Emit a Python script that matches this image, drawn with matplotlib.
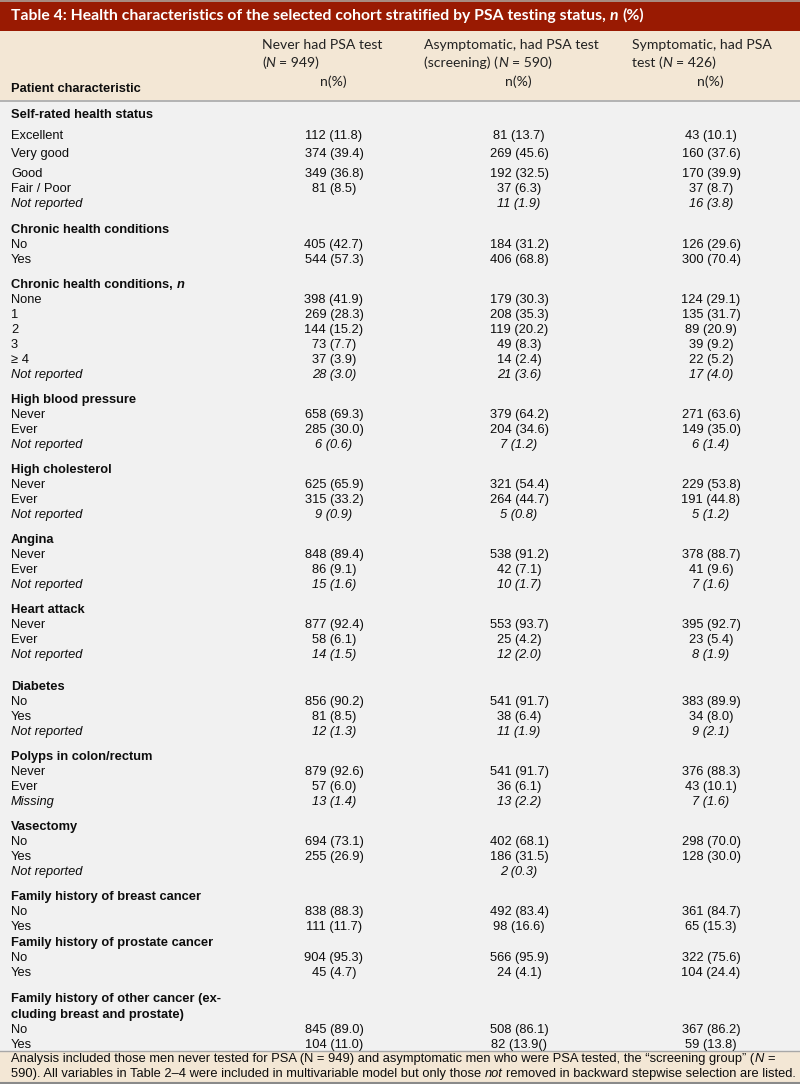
import matplotlib
matplotlib.use("Agg")
import matplotlib.pyplot as plt
from matplotlib.patches import Rectangle

# ---------------- data ----------------
title_parts = [("Table 4: Health characteristics of the selected cohort stratified by PSA testing status, ", "bold"),
               ("n", "bolditalic"), (" (%)", "bold")]

col_header_lines = [
    [[("Never had PSA test", "n")], [("(", "n"), ("N", "i"), (" = 949)", "n")]],
    [[("Asymptomatic, had PSA test", "n")], [("(screening) (", "n"), ("N", "i"), (" = 590)", "n")]],
    [[("Symptomatic, had PSA", "n")], [("test (", "n"), ("N", "i"), (" = 426)", "n")]],
]
col_unit = "n(%)"
row_header = "Patient characteristic"

section_titles = [
    [("Self-rated health status", "b")],
    [("Chronic health conditions", "b")],
    [("Chronic health conditions, ", "b"), ("n", "bi")],
    [("High blood pressure", "b")],
    [("High cholesterol", "b")],
    [("Angina", "b")],
    [("Heart attack", "b")],
    [("Diabetes", "b")],
    [("Polyps in colon/rectum", "b")],
    [("Vasectomy", "b")],
    [("Family history of breast cancer", "b")],
    [("Family history of prostate cancer", "b")],
    [("Family history of other cancer (ex-", "b")],
]
section_title_extra = {12: "cluding breast and prostate)"}

row_labels = [
    ["Excellent", "Very good", "Good", "Fair / Poor", "Not reported"],
    ["No", "Yes"],
    ["None", "1", "2", "3", "\u2265 4", "Not reported"],
    ["Never", "Ever", "Not reported"],
    ["Never", "Ever", "Not reported"],
    ["Never", "Ever", "Not reported"],
    ["Never", "Ever", "Not reported"],
    ["No", "Yes", "Not reported"],
    ["Never", "Ever", "Missing"],
    ["No", "Yes", "Not reported"],
    ["No", "Yes"],
    ["No", "Yes"],
    ["No", "Yes"],
]

never_tested = [
    ["112 (11.8)", "374 (39.4)", "349 (36.8)", "81 (8.5)", ""],
    ["405 (42.7)", "544 (57.3)"],
    ["398 (41.9)", "269 (28.3)", "144 (15.2)", "73 (7.7)", "37 (3.9)", "28 (3.0)"],
    ["658 (69.3)", "285 (30.0)", "6 (0.6)"],
    ["625 (65.9)", "315 (33.2)", "9 (0.9)"],
    ["848 (89.4)", "86 (9.1)", "15 (1.6)"],
    ["877 (92.4)", "58 (6.1)", "14 (1.5)"],
    ["856 (90.2)", "81 (8.5)", "12 (1.3)"],
    ["879 (92.6)", "57 (6.0)", "13 (1.4)"],
    ["694 (73.1)", "255 (26.9)", ""],
    ["838 (88.3)", "111 (11.7)"],
    ["904 (95.3)", "45 (4.7)"],
    ["845 (89.0)", "104 (11.0)"],
]

screening = [
    ["81 (13.7)", "269 (45.6)", "192 (32.5)", "37 (6.3)", "11 (1.9)"],
    ["184 (31.2)", "406 (68.8)"],
    ["179 (30.3)", "208 (35.3)", "119 (20.2)", "49 (8.3)", "14 (2.4)", "21 (3.6)"],
    ["379 (64.2)", "204 (34.6)", "7 (1.2)"],
    ["321 (54.4)", "264 (44.7)", "5 (0.8)"],
    ["538 (91.2)", "42 (7.1)", "10 (1.7)"],
    ["553 (93.7)", "25 (4.2)", "12 (2.0)"],
    ["541 (91.7)", "38 (6.4)", "11 (1.9)"],
    ["541 (91.7)", "36 (6.1)", "13 (2.2)"],
    ["402 (68.1)", "186 (31.5)", "2 (0.3)"],
    ["492 (83.4)", "98 (16.6)"],
    ["566 (95.9)", "24 (4.1)"],
    ["508 (86.1)", "82 (13.9()"],
]

symptomatic = [
    ["43 (10.1)", "160 (37.6)", "170 (39.9)", "37 (8.7)", "16 (3.8)"],
    ["126 (29.6)", "300 (70.4)"],
    ["124 (29.1)", "135 (31.7)", "89 (20.9)", "39 (9.2)", "22 (5.2)", "17 (4.0)"],
    ["271 (63.6)", "149 (35.0)", "6 (1.4)"],
    ["229 (53.8)", "191 (44.8)", "5 (1.2)"],
    ["378 (88.7)", "41 (9.6)", "7 (1.6)"],
    ["395 (92.7)", "23 (5.4)", "8 (1.9)"],
    ["383 (89.9)", "34 (8.0)", "9 (2.1)"],
    ["376 (88.3)", "43 (10.1)", "7 (1.6)"],
    ["298 (70.0)", "128 (30.0)", ""],
    ["361 (84.7)", "65 (15.3)"],
    ["322 (75.6)", "104 (24.4)"],
    ["367 (86.2)", "59 (13.8)"],
]

footer_lines = [
    [("Analysis included those men never tested for PSA (N = 949) and asymptomatic men who were PSA tested, the \u201cscreening group\u201d (", "n"),
     ("N", "i"), (" =", "n")],
    [("590). All variables in Table 2\u20134 were included in multivariable model but only those ", "n"),
     ("not", "i"), (" removed in backward stepwise selection are listed.", "n")],
]
italic_labels = {"Not reported", "Missing"}

# ---------------- layout ----------------
W, H = 800, 1084
fig = plt.figure(figsize=(W / 100, H / 100), dpi=100)
ax = fig.add_axes([0, 0, 1, 1])
ax.set_xlim(0, W)
ax.set_ylim(H, 0)
ax.axis("off")

RED = "#991a02"
BEIGE = "#f3e7d5"
GRAY = "#f1f1f1"

ax.add_patch(Rectangle((0, 0), W, 31, color=RED, lw=0))
ax.add_patch(Rectangle((0, 0), W, 2, color="#a88a80", lw=0))
ax.add_patch(Rectangle((0, 31), W, 69, color=BEIGE, lw=0))
ax.add_patch(Rectangle((0, 100), W, 951, color=GRAY, lw=0))
ax.add_patch(Rectangle((0, 1051), W, 33, color=BEIGE, lw=0))
ax.plot([0, W], [100.5, 100.5], color="#a8a8a8", lw=1.2)
ax.plot([0, W], [1051, 1051], color="#a8a8a8", lw=1.0)
ax.plot([0, W], [1083, 1083], color="#8a8a8a", lw=1.5)

renderer = fig.canvas.get_renderer()

BODY = "Liberation Sans"
HEAD = "Lato"
BFS = 9.3
INK = "#0d0d0d"

STYLE = {
    "n": dict(fontstyle="normal", fontweight="normal"),
    "i": dict(fontstyle="italic", fontweight="normal"),
    "b": dict(fontstyle="normal", fontweight="bold"),
    "bi": dict(fontstyle="italic", fontweight="bold"),
    "bold": dict(fontstyle="normal", fontweight="bold"),
    "bolditalic": dict(fontstyle="italic", fontweight="bold"),
}


def space_width(family, size, style):
    a = ax.text(0, -100, "x x", family=family, fontsize=size, **STYLE[style])
    b = ax.text(0, -100, "xx", family=family, fontsize=size, **STYLE[style])
    w = a.get_window_extent(renderer).width - b.get_window_extent(renderer).width
    a.remove()
    b.remove()
    return w


def rich(x, y, parts, family, size, color=INK):
    cx = x
    for s, st in parts:
        sp = space_width(family, size, st)
        lead = len(s) - len(s.lstrip(" "))
        trail = len(s) - len(s.rstrip(" "))
        core = s.strip(" ")
        cx += lead * sp
        if core:
            t = ax.text(cx, y, core, family=family, fontsize=size, color=color,
                        ha="left", va="baseline", **STYLE[st])
            cx += t.get_window_extent(renderer).width
        cx += trail * sp
    return cx


# title
rich(11, 20, title_parts, HEAD, 11.3, color="white")

# column headers
col_left = [262, 424, 632]
col_center = [334, 519, 711]
for k, lines in enumerate(col_header_lines):
    for j, line in enumerate(lines):
        rich(col_left[k], 49 + 18 * j, line, HEAD, 10.1, color="#222222")
    ax.text(col_center[k] - 1, 86, col_unit, family=HEAD, fontsize=10.1, color="#222222",
            ha="center", va="baseline")
ax.text(11, 92, row_header, family=BODY, fontsize=BFS, fontweight="bold",
        color=INK, ha="left", va="baseline")

# body
section_gaps = [0, 26, 25, 25, 25, 25, 25, 32, 25, 25, 25, 16, 26]
first_section_steps = [21, 18, 20, 15, 15]
ROW = 15
OFF = 5  # center -> baseline offset
y = 113
columns = [never_tested, screening, symptomatic]
for s_idx, title in enumerate(section_titles):
    y += section_gaps[s_idx]
    rich(11, y + OFF, title, BODY, BFS)
    if s_idx in section_title_extra:
        y += 16
        ax.text(11, y + OFF, section_title_extra[s_idx], family=BODY, fontsize=BFS,
                fontweight="bold", color=INK, ha="left", va="baseline")
    for r_idx, lab in enumerate(row_labels[s_idx]):
        y += first_section_steps[r_idx] if s_idx == 0 else ROW
        st = "italic" if lab in italic_labels else "normal"
        ax.text(11, y + OFF, lab, family=BODY, fontsize=BFS, fontstyle=st,
                color=INK, ha="left", va="baseline")
        for c in range(3):
            val = columns[c][s_idx][r_idx]
            if val:
                ax.text(col_center[c], y + OFF, val, family=BODY, fontsize=BFS,
                        fontstyle=st, color=INK, ha="center", va="baseline")

# footer
for j, line in enumerate(footer_lines):
    rich(11, 1062 + 15 * j, line, BODY, 9.3)

fig.savefig("out.png", dpi=100, facecolor="white")
